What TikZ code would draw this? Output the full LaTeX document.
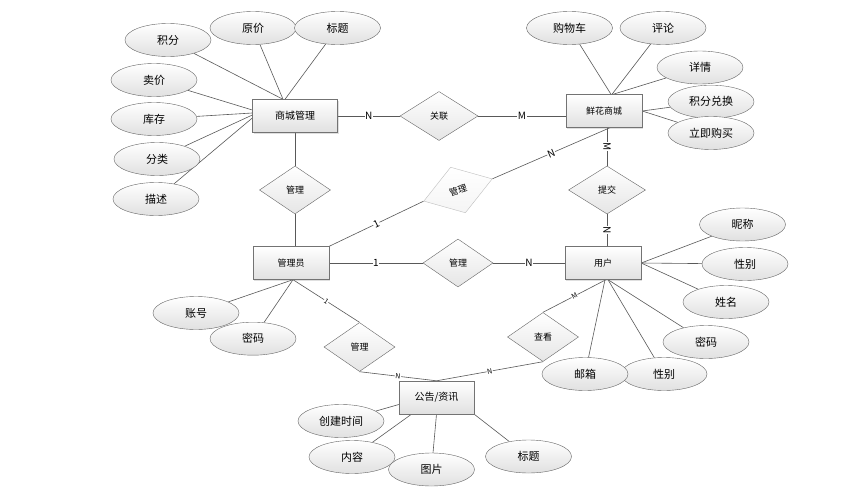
\documentclass[tikz,border=0pt]{standalone}
\usepackage{fontspec}
\setmainfont{Noto Sans CJK SC}
\usepackage{tikz}
\usetikzlibrary{shapes.geometric,backgrounds,shadows}

\begin{document}
\begin{tikzpicture}[x=1pt,y=-1pt,
  shiti/.style={draw=black!55,rectangle,top color=white,bottom color=black!12,minimum width=76pt,minimum height=33pt,inner sep=0pt,font=\fontsize{9}{11}\selectfont,drop shadow={shadow xshift=1pt,shadow yshift=-1pt,opacity=0.25}},
  shuxing/.style={draw=black!60,ellipse,top color=white,bottom color=black!12,minimum width=86pt,minimum height=33pt,inner sep=0pt,font=\fontsize{11}{13}\selectfont},
  lianxi/.style={draw=black!60,diamond,top color=white,bottom color=black!10,minimum width=71pt,minimum height=48pt,inner sep=0pt,font=\fontsize{9}{11}\selectfont},
  xian/.style={draw=black!65,line width=0.6pt},
  dui/.style={midway,sloped,fill=white,inner sep=0.5pt,font=\fontsize{10}{10}\selectfont},
  xiaodui/.style={dui,font=\fontsize{7}{7}\selectfont}]
\useasboundingbox (0,0) rectangle (867,503);

% entities
\node[shiti,minimum width=85pt,font=\fontsize{10}{12}\selectfont] (scgl) at (295,116) {商城管理};
\node[shiti] (xhsc) at (604,111) {鲜花商城};
\node[shiti] (gly) at (291,263) {管理员};
\node[shiti] (yh) at (603,263) {用户};
\node[shiti,minimum width=75pt,font=\fontsize{10}{12}\selectfont] (ggzx) at (436.5,397.5) {公告/资讯};

% relations
\node[lianxi] (gm1) at (295,190) {管理};
\node[lianxi,minimum width=78pt,minimum height=49pt] (gl) at (439,116) {关联};
\node[lianxi,minimum width=77pt] (tj) at (607,190) {提交};
\node[lianxi,draw=black!25,bottom color=black!4,minimum width=72pt,rotate=18] (gm2) at (458,190) {管理};
\node[lianxi,minimum width=70pt] (gm3) at (458,263) {管理};
\node[lianxi,minimum height=49pt] (gm4) at (359.5,347) {管理};
\node[lianxi,minimum height=49pt] (ck) at (543,337) {查看};

% attributes
\node[shuxing] (jf) at (168,40) {积分};
\node[shuxing] (yj) at (253,28) {原价};
\node[shuxing] (bt1) at (337.5,28) {标题};
\node[shuxing] (mj) at (154,80) {卖价};
\node[shuxing] (kc) at (154,119) {库存};
\node[shuxing] (fl) at (157,159) {分类};
\node[shuxing] (ms) at (156,199) {描述};

\node[shuxing] (gwc) at (569.5,28) {购物车};
\node[shuxing] (pl) at (663,28) {评论};
\node[shuxing] (xq) at (700,67.5) {详情};
\node[shuxing] (jfdh) at (711,101.7) {积分兑换};
\node[shuxing] (ljgm) at (711,133) {立即购买};

\node[shuxing] (nc) at (742.5,224.5) {昵称};
\node[shuxing] (xb1) at (745,264) {性别};
\node[shuxing] (xm) at (726,302) {姓名};
\node[shuxing] (mm2) at (706,342) {密码};
\node[shuxing] (xb2) at (664,374) {性别};
\node[shuxing] (yx) at (585,374) {邮箱};

\node[shuxing] (zh) at (196,313) {账号};
\node[shuxing] (mm1) at (253,338.7) {密码};

\node[shuxing] (cjsj) at (341,421) {创建时间};
\node[shuxing] (nr) at (352,457) {内容};
\node[shuxing] (tp) at (431.5,469.5) {图片};
\node[shuxing] (bt2) at (528.5,456.5) {标题};

\begin{scope}[on background layer]
\fill[white] (0,0) rectangle (867,503);
% relation lines
\draw[xian] (scgl.east) -- (gl.west) node[dui] {N};
\draw[xian] (gl.east) -- (xhsc.west |- gl) node[dui] {M};
\draw[xian] (tj.north |- xhsc.south) -- (tj.north) node[dui] {M};
\draw[xian] (tj.south) -- (tj.south |- yh.north) node[dui] {N};
\draw[xian] ([xshift=6pt]xhsc.south) -- (gm2.east) node[dui] {N};
\draw[xian] (gm2.west) -- (gly.north east) node[dui] {1};
\draw[xian] (scgl.south) -- (gm1.north);
\draw[xian] (gm1.south) -- (gm1.south |- gly.north);
\draw[xian] (gly.east) -- (gm3.west) node[dui] {1};
\draw[xian] (gm3.east) -- (yh.west) node[dui] {N};
\draw[xian] ([xshift=2pt]gly.south) -- (gm4.north) node[xiaodui] {1};
\draw[xian] (gm4.south) -- (ggzx.north) node[xiaodui] {N};
\draw[xian] ([xshift=3pt]yh.south) -- (ck.north) node[xiaodui] {M};
\draw[xian] (ck.south) -- (ggzx.north) node[xiaodui] {N};

% attribute lines
\draw[xian] (jf) -- ([xshift=-12pt]scgl.north);
\draw[xian] (yj) -- ([xshift=-12pt]scgl.north);
\draw[xian] (bt1) -- ([xshift=-10pt]scgl.north);
\draw[xian] (mj) -- ([yshift=6pt]scgl.west);
\draw[xian] (kc) -- ([yshift=3pt]scgl.west);
\draw[xian] (fl) -- ([yshift=1pt]scgl.west);
\draw[xian] (ms) -- ([yshift=-2pt]scgl.west);

\draw[xian] (gwc) -- ([xshift=7pt]xhsc.north);
\draw[xian] (pl) -- ([xshift=8pt]xhsc.north);
\draw[xian] (xq) -- ([xshift=9pt]xhsc.north);
\draw[xian] (jfdh) -- (xhsc.east);
\draw[xian] (ljgm) -- (xhsc.east);

\draw[xian] (nc) -- (yh.east);
\draw[xian] (xb1) -- (yh.east);
\draw[xian] (xm) -- (yh.east);
\draw[xian] (mm2) -- ([xshift=5pt]yh.south);
\draw[xian] (xb2) -- ([xshift=5pt]yh.south);
\draw[xian] (yx) -- ([xshift=2pt]yh.south);

\draw[xian] (zh) -- ([xshift=2pt]gly.south);
\draw[xian] (mm1) -- ([xshift=2pt]gly.south);

\draw[xian] (cjsj) -- ([yshift=-7pt]ggzx.west);
\draw[xian] (nr) -- ([xshift=-25pt]ggzx.south);
\draw[xian] (tp) -- (ggzx.south);
\draw[xian] (bt2) -- (ggzx.south east);
\end{scope}
\end{tikzpicture}
\end{document}
